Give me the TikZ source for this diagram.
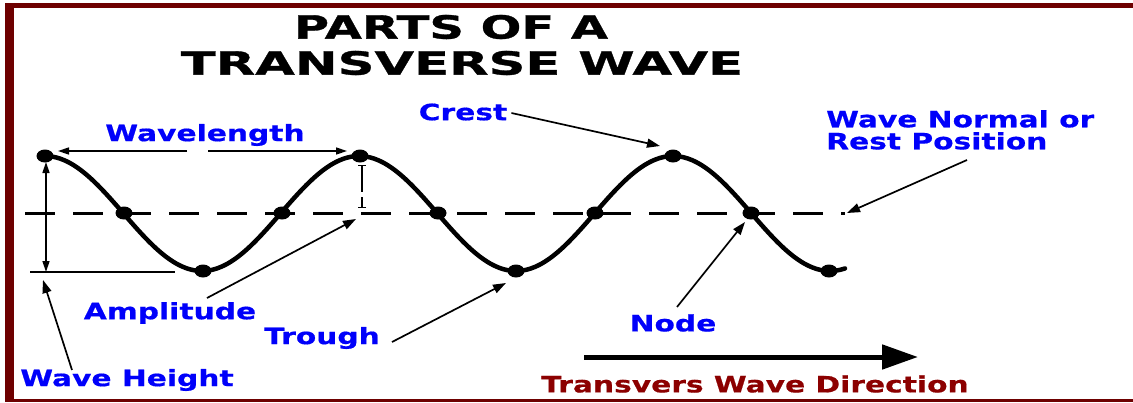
\documentclass[tikz,border=0pt]{standalone}
\usepackage{fontspec}
\usetikzlibrary{shapes.geometric,arrows.meta}
\newfontfamily\lblfont[FakeStretch=1.32,FakeBold=0.6]{DejaVu Sans Bold}
\newfontfamily\ttlfont[FakeStretch=1.5,FakeBold=1]{DejaVu Sans Bold}
\newfontfamily\ttlwidefont[FakeStretch=1.6,FakeBold=1]{DejaVu Sans Bold}
\definecolor{framered}{RGB}{110,0,0}
\definecolor{dirred}{RGB}{140,0,0}
\definecolor{lblblue}{RGB}{0,0,250}
\tikzset{
  wavedot/.style={ellipse,fill=black,minimum width=17pt,minimum height=13pt,inner sep=0pt},
  lbl/.style={text=lblblue,font=\lblfont\fontsize{22.5}{25}\selectfont,inner sep=0pt,align=left},
  ttl/.style={text=black,font=\ttlfont\fontsize{32}{36}\selectfont,inner sep=0pt},
  ttlwide/.style={text=black,font=\ttlwidefont\fontsize{32}{36}\selectfont,inner sep=0pt},
  ptr/.style={draw=black,line width=1.7pt,-{Triangle[length=13pt,width=9pt]}},
  dimtip/.style={Triangle[length=11pt,width=7pt]},
  dimarrow/.style={draw=black,line width=1.5pt,-{Triangle[length=11pt,width=7pt]}},
}
\begin{document}
\begin{tikzpicture}[x=1pt,y=-1pt]
\useasboundingbox (0,0) rectangle (1133,402);
\fill[white] (0,0) rectangle (1133,402);
% frame
\fill[framered] (5,3) rectangle (14,402);
\fill[framered] (5,3) rectangle (1133,8);
\fill[framered] (5,399) rectangle (1133,402);

% title
\node[ttl] (t1) at (451,27) {PARTS OF A};
\node[ttlwide] (t2) at (462,63) {TRANSVERSE WAVE};

% rest line
\coordinate (restL) at (25,213);
\coordinate (restR) at (845,213);
\draw[line width=3pt,dash pattern=on 30pt off 18pt] (restL) -- (restR);

% wave
\draw[line width=4.5pt,line cap=round] plot[domain=45:845,samples=200,smooth] (\x,{213.5-57.5*cos((\x-45)*1.146497)});

% dots
\node[wavedot] (c1) at (45,156) {};
\node[wavedot] (c2) at (360,156) {};
\node[wavedot] (c3) at (673,156) {};
\node[wavedot] (tr1) at (203,271) {};
\node[wavedot] (tr2) at (516,271) {};
\node[wavedot] (tr3) at (829,271) {};
\node[wavedot] (n1) at (124,213) {};
\node[wavedot] (n2) at (282,213) {};
\node[wavedot] (n3) at (438,213) {};
\node[wavedot] (n4) at (595,213) {};
\node[wavedot] (n5) at (751,213) {};

% labels
\node[lbl] (wl) at (205,135) {Wavelength};
\node[lbl] (crest) at (463,112) {Crest};
\node[lbl,anchor=north west] (wn) at (826,110) {Wave Normal or\\[-3pt]Rest Position};
\node[lbl] (amp) at (170,313) {Amplitude};
\node[lbl] (trough) at (322,338) {Trough};
\node[lbl] (node) at (673,323) {Node};
\node[lbl] (wh) at (127,380) {Wave Height};
\node[lbl,text=dirred] (dir) at (755,384) {Transvers Wave Direction};

% wavelength arrows
\coordinate (wlA) at (187,151);
\coordinate (wlB) at (208,151);
\coordinate (wlL) at (58,151);
\coordinate (wlR) at (347,151);
\draw[dimarrow] (wlA) -- (wlL);
\draw[dimarrow] (wlB) -- (wlR);

% wave height
\coordinate (whT) at (46,162);
\coordinate (whB) at (46,272);
\coordinate (baseL) at (30,272);
\coordinate (baseR) at (175,272);
\draw[line width=1.5pt,{Triangle[length=11pt,width=7pt]}-{Triangle[length=11pt,width=7pt]}] (whT) -- (whB);
\draw[line width=2.2pt] (baseL) -- (baseR);

% amplitude bar
\coordinate (ampT) at (362,165);
\coordinate (ampB) at (362,208);
\draw[line width=1.4pt,dash pattern=on 26pt off 5pt,{Bar[width=8pt]}-{Bar[width=8pt]}] (ampT) -- (ampB);

% pointer arrows
\coordinate (crestTip) at (660,146);
\coordinate (wnTip) at (847,213);
\coordinate (wnTail) at (967,160);
\coordinate (nodeTip) at (745,222);
\coordinate (nodeTail) at (677,307);
\coordinate (trTip) at (506,283);
\coordinate (trTail) at (392,342);
\coordinate (ampTip) at (356,219);
\coordinate (ampTail) at (207,298);
\coordinate (whTip) at (43,280);
\coordinate (whTail) at (72,370);
\draw[ptr] (crest.east) ++(4,1) -- (crestTip);
\draw[ptr] (wnTail) -- (wnTip);
\draw[ptr] (nodeTail) -- (nodeTip);
\draw[ptr] (trTail) -- (trTip);
\draw[ptr] (ampTail) -- (ampTip);
\draw[ptr] (whTail) -- (whTip);

% direction arrow
\coordinate (dirL) at (584,357);
\coordinate (dirR) at (918,357);
\draw[line width=5pt,-{Triangle[length=36pt,width=24pt]}] (dirL) -- (dirR);
\end{tikzpicture}
\end{document}
